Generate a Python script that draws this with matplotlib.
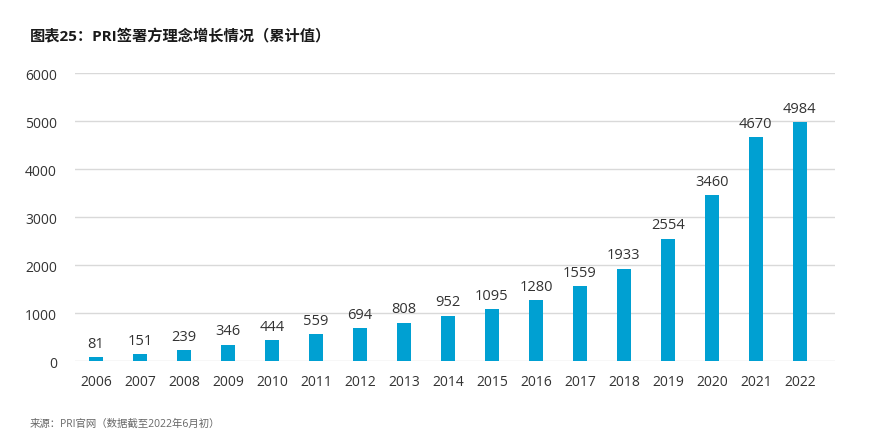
import matplotlib
matplotlib.use("Agg")
import matplotlib.pyplot as plt

plt.rcParams['font.family'] = ['Open Sans', 'Noto Sans CJK SC', 'DejaVu Sans']

years = ['2006', '2007', '2008', '2009', '2010', '2011', '2012', '2013', '2014',
         '2015', '2016', '2017', '2018', '2019', '2020', '2021', '2022']
signatories = [81, 151, 239, 346, 444, 559, 694, 808, 952,
               1095, 1280, 1559, 1933, 2554, 3460, 4670, 4984]
yticks = [0, 1000, 2000, 3000, 4000, 5000, 6000]

W, H = 869, 439
fig = plt.figure(figsize=(W / 100, H / 100), dpi=100)
ax = fig.add_axes([75 / W, 1 - 362.3 / H, (835 - 75) / W, (362.3 - 74.3) / H])

x = list(range(len(years)))
ax.bar(x, signatories, width=0.32, color='#00A0D2', zorder=3)
for xi, v in zip(x, signatories):
    ax.text(xi, v + 130, str(v), ha='center', va='bottom', fontsize=10.5, color='#333333')

ax.set_ylim(0, 6000)
ax.set_xlim(-0.48, 16.8)
ax.set_yticks(yticks)
ax.set_yticklabels([str(t) for t in yticks])
ax.set_xticks(x)
ax.set_xticklabels(years)
ax.tick_params(axis='both', length=0, labelsize=10, colors='#333333')
ax.tick_params(axis='y', pad=13)
ax.tick_params(axis='x', pad=9)
ax.grid(axis='y', color='#d9d9d9', linewidth=1, zorder=0)
for s in ax.spines.values():
    s.set_visible(False)

fig.text(30 / W, 1 - 37 / H, '图表25：PRI签署方理念增长情况（累计值）', fontsize=11,
         fontweight='bold', color='#1a1a1a', va='center', ha='left')
fig.text(30 / W, 1 - 424 / H, '来源：PRI官网（数据截至2022年6月初）', fontsize=7.5,
         color='#666666', va='center', ha='left')

fig.savefig('out.png', dpi=100)
